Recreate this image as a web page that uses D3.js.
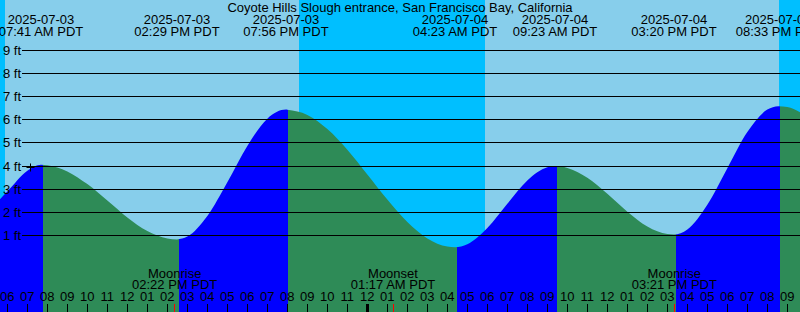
<!DOCTYPE html>
<html>
<head>
<meta charset="utf-8">
<script src="https://cdn.jsdelivr.net/npm/d3@7"></script>
<style>
body { margin: 0; background: #fff; }
text { font-family: "Liberation Sans", Arial, sans-serif; font-size: 13px; fill: #000; }
</style>
</head>
<body>
<div id="chart"></div>
<script>

var title = 'Coyote Hills Slough entrance, San Francisco Bay, California';

// Pembacaan tinggi air tiap jam (ft), mulai 2025-07-03 05:00
var readStart = '2025-07-03 05:00';
var tideFeet = [2.00, 2.90, 3.80, 4.04, 3.77, 3.22, 2.51, 1.78, 1.19, 0.87,
    0.95, 1.84, 3.30, 4.87, 6.05, 6.43, 6.21, 5.60, 4.71, 3.64,
    2.55, 1.58, 0.87, 0.52, 0.62, 1.32, 2.37, 3.38, 3.95, 3.92,
    3.49, 2.80, 2.03, 1.39, 1.06, 1.26, 2.33, 3.91, 5.47, 6.44,
    6.55, 6.13];

// Pasang naik / surut
var eventTimes = ['2025-07-03 07:41', '2025-07-03 14:29', '2025-07-03 19:56', '2025-07-04 04:23',
    '2025-07-04 09:23', '2025-07-04 15:20', '2025-07-04 20:33'];
var eventFeet = [4.06, 0.83, 6.44, 0.49, 4.00, 1.04, 6.59];

// Matahari terbit / terbenam
var sunTimes = ['2025-07-03 05:53', '2025-07-03 20:35', '2025-07-04 05:53', '2025-07-04 20:35'];

// Bulan
var moonNames = ['Moonrise', 'Moonset', 'Moonrise'];
var moonTimes = ['2025-07-03 14:22', '2025-07-04 01:17', '2025-07-04 15:21'];

// Tanda waktu sekarang
var nowTime = '2025-07-03 07:08';
var nowFeet = 3.95;

var feetTicks = [1, 2, 3, 4, 5, 6, 7, 8, 9];

var width = 800;
var height = 312;

var parse = d3.timeParse('%Y-%m-%d %H:%M');

var svg = d3.select('#chart').append('svg')
    .attr('width', width)
    .attr('height', height);

// Skala X
var x = d3.scaleTime()
    .domain([parse('2025-07-03 05:38'), parse('2025-07-04 21:38')])
    .range([0, width]);

// Skala Y
var y = d3.scaleLinear()
    .domain([0, 9])
    .range([258.6, 50.4]);

var start = parse(readStart);
var readings = tideFeet.map((v, i) => ({ t: d3.timeHour.offset(start, i), ft: v }));
var events = eventTimes.map((s, i) => ({ t: parse(s), ft: eventFeet[i] }));
var points = readings.concat(events).sort((a, b) => a.t - b.t);

// Latar siang / malam
var edges = [x.domain()[0]].concat(sunTimes.map(parse), [x.domain()[1]]);
var bands = d3.pairs(edges).map((p, i) => ({ a: p[0], b: p[1], night: i % 2 === 0 }));

svg.append('g')
    .selectAll('rect')
    .data(bands)
    .enter().append('rect')
    .attr('x', d => x(d.a))
    .attr('width', d => x(d.b) - x(d.a))
    .attr('y', 0)
    .attr('height', height)
    .attr('fill', d => d.night ? '#00bfff' : '#87ceeb')
    .attr('shape-rendering', 'crispEdges');

// Area air sebagai clip
var area = d3.area()
    .x(d => x(d.t))
    .y0(height)
    .y1(d => y(d.ft))
    .curve(d3.curveMonotoneX);

svg.append('clipPath')
    .attr('id', 'water')
    .append('path')
    .attr('d', area(points));

// Warna naik (biru) / turun (hijau)
var tEdges = [x.domain()[0]].concat(events.map(d => d.t), [x.domain()[1]]);
var segs = d3.pairs(tEdges).map((p, i) => {
    var rising;
    if (i < events.length) rising = i + 1 < events.length ? events[i].ft > events[i + 1].ft : events[i].ft > events[i - 1].ft;
    else rising = events[i - 1].ft < events[i - 2].ft;
    return { a: p[0], b: p[1], first: i === 0, rising: rising };
});

// batas warna sedikit ke kanan seperti gambar asli
var shift = 1.5;

svg.append('g')
    .attr('clip-path', 'url(#water)')
    .selectAll('rect')
    .data(segs)
    .enter().append('rect')
    .attr('x', d => d.first ? x(d.a) : x(d.a) + shift)
    .attr('width', d => x(d.b) + shift - (d.first ? x(d.a) : x(d.a) + shift))
    .attr('y', 0)
    .attr('height', height)
    .attr('fill', d => d.rising ? '#0000ff' : '#2e8b57')
    .attr('shape-rendering', 'crispEdges');

// Garis ft
svg.append('g')
    .selectAll('line')
    .data(feetTicks)
    .enter().append('line')
    .attr('x1', 22)
    .attr('x2', width)
    .attr('y1', d => Math.floor(y(d)) + 0.5)
    .attr('y2', d => Math.floor(y(d)) + 0.5)
    .attr('stroke', '#000')
    .attr('stroke-width', 1);

svg.append('g')
    .selectAll('text')
    .data(feetTicks)
    .enter().append('text')
    .attr('x', 3)
    .attr('y', d => Math.floor(y(d)) + 5)
    .text(d => d + ' ft');

// Judul
svg.append('text')
    .attr('x', width / 2)
    .attr('y', 12)
    .attr('text-anchor', 'middle')
    .text(title);

// Label pasang
var fmtDate = d3.timeFormat('%Y-%m-%d');
var fmtTime = d3.timeFormat('%I:%M %p PDT');

var evLab = svg.append('g')
    .selectAll('text')
    .data(events)
    .enter().append('text')
    .attr('text-anchor', 'middle');
evLab.append('tspan').attr('x', d => x(d.t)).attr('y', 24).text(d => fmtDate(d.t));
evLab.append('tspan').attr('x', d => x(d.t)).attr('y', 36).text(d => fmtTime(d.t));

// Sumbu jam
var hours = d3.timeHour.range(d3.timeHour.ceil(x.domain()[0]), x.domain()[1]);

svg.append('g')
    .selectAll('line')
    .data(hours)
    .enter().append('line')
    .attr('x1', d => Math.floor(x(d)) + 0.5)
    .attr('x2', d => Math.floor(x(d)) + 0.5)
    .attr('y1', 304)
    .attr('y2', height)
    .attr('stroke', '#000')
    .attr('stroke-width', d => d.getHours() === 0 ? 3 : 1);

svg.append('g')
    .selectAll('text')
    .data(hours)
    .enter().append('text')
    .attr('x', d => x(d))
    .attr('y', 301)
    .attr('text-anchor', 'middle')
    .text(d => d3.timeFormat('%I')(d));

// Bulan
var moons = moonTimes.map((s, i) => ({ t: parse(s), name: moonNames[i] }));

svg.append('g')
    .selectAll('line')
    .data(moons)
    .enter().append('line')
    .attr('x1', d => Math.floor(x(d.t)) + 0.5)
    .attr('x2', d => Math.floor(x(d.t)) + 0.5)
    .attr('y1', 304)
    .attr('y2', height)
    .attr('stroke', '#ff0000');

var mLab = svg.append('g')
    .selectAll('text')
    .data(moons)
    .enter().append('text')
    .attr('text-anchor', 'middle');
mLab.append('tspan').attr('x', d => x(d.t)).attr('y', 278).text(d => d.name);
mLab.append('tspan').attr('x', d => x(d.t)).attr('y', 289).text(d => fmtTime(d.t));

// Tanda +
var nx = Math.floor(x(parse(nowTime))) + 0.5;
var ny = Math.floor(y(nowFeet)) + 0.5;
svg.append('path')
    .attr('d', 'M' + (nx - 4) + ',' + ny + 'H' + (nx + 4) + 'M' + nx + ',' + (ny - 4) + 'V' + (ny + 4))
    .attr('stroke', '#000')
    .attr('fill', 'none');

</script>
</body>
</html>
